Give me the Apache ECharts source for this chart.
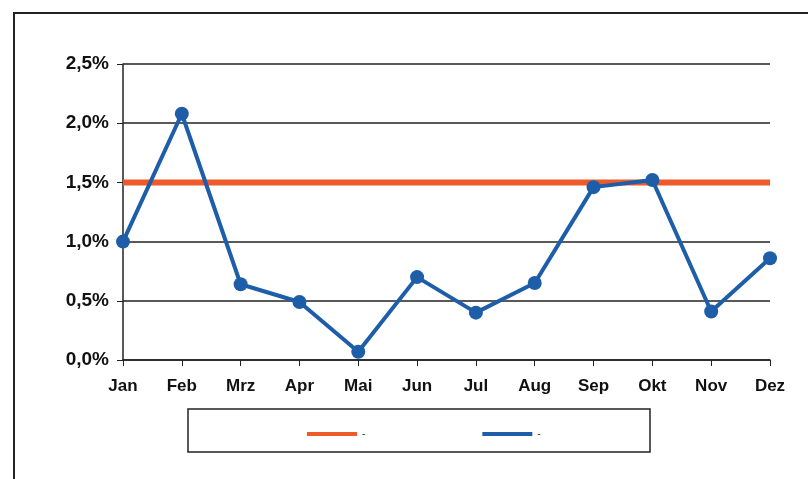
<!DOCTYPE html>
<html>
<head>
<meta charset="utf-8">
<script src="https://cdn.jsdelivr.net/npm/echarts@6/dist/echarts.min.js"></script>
<style>
  html, body { margin: 0; padding: 0; background: #fff; }
  #chart { width: 808px; height: 479px; }
</style>
</head>
<body>
<div id="chart"></div>
<script>
// Monate und Werte (in %)
var months = ['Jan', 'Feb', 'Mrz', 'Apr', 'Mai', 'Jun', 'Jul', 'Aug', 'Sep', 'Okt', 'Nov', 'Dez'];
var istWerte = [1.0, 2.08, 0.64, 0.49, 0.07, 0.70, 0.40, 0.65, 1.46, 1.52, 0.41, 0.86];
var zielWerte = [1.5, 1.5, 1.5, 1.5, 1.5, 1.5, 1.5, 1.5, 1.5, 1.5, 1.5, 1.5];
var legendNames = ['Ziel', 'Ist'];

var myChart = echarts.init(document.getElementById('chart'));

var option = {
    backgroundColor: '#ffffff',
    animation: false,
    graphic: [
        {
            type: 'rect',
            shape: { x: 14, y: 13, width: 900, height: 600 },
            style: { fill: 'none', stroke: '#222', lineWidth: 2 }
        },
        {
            type: 'rect',
            shape: { x: 188, y: 409, width: 462, height: 43 },
            style: { fill: 'none', stroke: '#222', lineWidth: 1.5 }
        }
    ],
    grid: {
        left: 123,
        right: 38,
        top: 64,
        bottom: 119
    },
    legend: {
        left: 302,
        top: 424,
        itemWidth: 50,
        itemHeight: 4,
        itemGap: 117,
        icon: 'rect',
        data: legendNames,
        formatter: function () { return '-'; },
        textStyle: { color: '#333', fontSize: 10 }
    },
    xAxis: {
        type: 'category',
        data: months,
        boundaryGap: false,
        axisLine: { lineStyle: { color: '#222', width: 1.5 } },
        axisTick: { show: true, inside: false, length: 6, lineStyle: { color: '#222' } },
        axisLabel: {
            color: '#111',
            fontWeight: 'bold',
            fontFamily: 'Liberation Sans',
            fontSize: 17,
            margin: 18
        },
        splitLine: { show: false }
    },
    yAxis: {
        type: 'value',
        min: 0,
        max: 2.5,
        interval: 0.5,
        axisLine: { show: true, lineStyle: { color: '#222', width: 1.5 } },
        axisTick: { show: true, length: 6, lineStyle: { color: '#222' } },
        axisLabel: {
            color: '#111',
            fontWeight: 'bold',
            fontFamily: 'Liberation Sans',
            fontSize: 19,
            margin: 14,
            formatter: function (v) { return v.toFixed(1).replace('.', ',') + '%'; }
        },
        splitLine: { show: true, lineStyle: { color: '#222', width: 1.5 } }
    },
    series: [
        {
            name: 'Ziel',
            type: 'line',
            data: zielWerte,
            symbol: 'none',
            lineStyle: { color: '#EE5A2A', width: 6 },
            itemStyle: { color: '#EE5A2A' },
            z: 2
        },
        {
            name: 'Ist',
            type: 'line',
            data: istWerte,
            symbol: 'circle',
            symbolSize: 14,
            lineStyle: { color: '#1E5EA8', width: 4 },
            itemStyle: { color: '#1E5EA8' },
            z: 3
        }
    ]
};

option && myChart.setOption(option);
</script>
</body>
</html>
